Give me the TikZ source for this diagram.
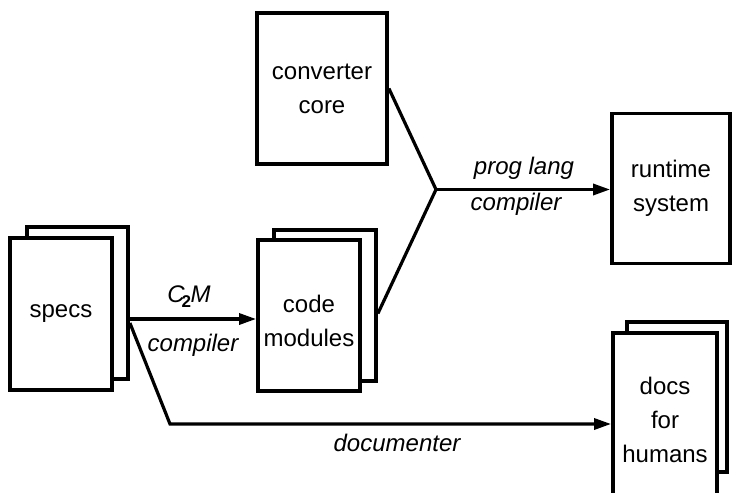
\documentclass[tikz,border=0pt]{standalone}
\usepackage{fontspec}
\setmainfont{Liberation Sans}
\usetikzlibrary{arrows.meta, positioning, calc}

\tikzset{
  box/.style={draw, line width=1.9pt, fill=white, inner sep=0pt, align=center,
    font=\fontsize{12}{17}\selectfont},
  lbl/.style={font=\fontsize{12}{14}\selectfont\itshape, inner sep=1pt},
  flow/.style={line width=1.6pt, -{Triangle[length=8.5pt,width=5.5pt]}},
  link/.style={line width=1.6pt}
}

\begin{document}
\begin{tikzpicture}[x=0.5pt, y=-0.5pt]
  \useasboundingbox (0,0) rectangle (732,492);

  % === sheets behind (stacked documents) ===
  \node[box, minimum width=50.5pt, minimum height=76pt] (specs-b) at (77.5,303) {};
  \node[box, minimum width=51pt, minimum height=75.5pt] (code-b) at (325,305.5) {};
  \node[box, minimum width=50pt, minimum height=75pt] (docs-b) at (677,397) {};

  % === front boxes ===
  \node[box, minimum width=51pt, minimum height=76pt] (specs) at (61,314) {specs};
  \node[box, minimum width=51pt, minimum height=75.5pt] (code) at (309,315.5)
    {\rule{0pt}{14pt}code\\modules};
  \node[box, minimum width=65pt, minimum height=75.5pt] (core) at (322,88.5) {converter\\core};
  \node[box, minimum width=59pt, minimum height=75pt] (runtime) at (671,188.5) {runtime\\system};
  \node[box, minimum width=52pt, minimum height=87pt] (docs) at (665,420) {docs\\for\\humans};

  % === connectors ===
  % specs -> code modules
  \coordinate (c2m-start) at ([yshift=-8pt]specs-b.east);
  \draw[flow] (c2m-start) -- (c2m-start -| code.west);

  % specs -> docs
  \coordinate (doc-start) at ([yshift=-10pt]specs-b.east);
  \coordinate (doc-bend) at (170,424);
  \draw[flow] (doc-start) -- (doc-bend) -- (doc-bend -| docs.west);

  % core + modules -> runtime
  \coordinate (join) at (436,189.5);
  \draw[link] (core.east) -- (join);
  \draw[link] ([yshift=-4pt]code-b.east) -- (join);
  \draw[flow] (join) -- (join -| runtime.west);

  % === labels ===
  \node[lbl] (lbl-c2m) at (189,297) {C\kern-0.12em\raisebox{-0.4ex}{\upshape\bfseries\fontsize{8.5}{9}\selectfont 2}\kern-0.02em M};
  \node[lbl] (lbl-comp1) at (193,345) {compiler};
  \node[lbl] (lbl-prog) at (524,168) {prog lang};
  \node[lbl] (lbl-comp2) at (516,204) {compiler};
  \node[lbl] (lbl-doc) at (397,443) {documenter};
\end{tikzpicture}
\end{document}
